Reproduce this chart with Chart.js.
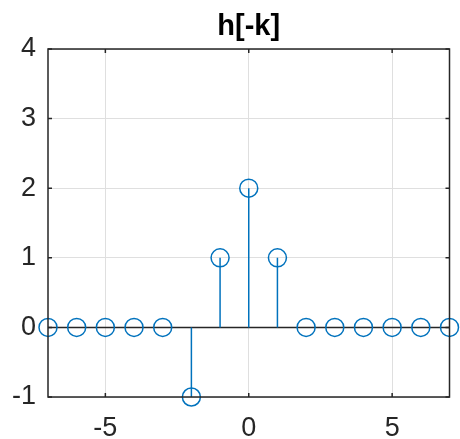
<!DOCTYPE html>
<html><head><meta charset="utf-8">
<script src="https://cdn.jsdelivr.net/npm/chart.js@4/dist/chart.umd.min.js"></script>
<style>html,body{margin:0;padding:0;background:#fff}#wrap{width:460px;height:439px}</style>
</head><body><div id="wrap"><canvas id="c"></canvas></div>
<script>
const kValues = [-7,-6,-5,-4,-3,-2,-1,0,1,2,3,4,5,6,7];
const hValues = [0,0,0,0,0,-1,1,2,1,0,0,0,0,0,0];
const xTicks = [-5,0,5];
const yTicks = [-1,0,1,2,3,4];
const titleText = 'h[-k]';

const points = kValues.map((k,i)=>({x:k,y:hValues[i]}));
const stems = [];
kValues.forEach((k,i)=>{ if(hValues[i]!==0){ stems.push({x:k,y:0},{x:k,y:hValues[i]},{x:k,y:null}); }});
const baseline = [{x:kValues[0],y:0},{x:kValues[kValues.length-1],y:0}];

const C_BLUE='#0072BD', C_AX='#262626';
const FONT='Liberation Sans, Arial, Helvetica, sans-serif';

const framePlugin = {
  id:'frame',
  afterDatasetsDraw(chart){
    const {ctx, chartArea:a, scales} = chart;
    ctx.save();
    ctx.strokeStyle=C_AX; ctx.lineWidth=1.5;
    ctx.strokeRect(a.left,a.top,a.right-a.left,a.bottom-a.top);
    const tl=4;
    xTicks.forEach(v=>{const px=scales.x.getPixelForValue(v);
      ctx.beginPath();ctx.moveTo(px,a.bottom);ctx.lineTo(px,a.bottom-tl);ctx.moveTo(px,a.top);ctx.lineTo(px,a.top+tl);ctx.stroke();});
    yTicks.forEach(v=>{const py=scales.y.getPixelForValue(v);
      ctx.beginPath();ctx.moveTo(a.left,py);ctx.lineTo(a.left+tl,py);ctx.moveTo(a.right,py);ctx.lineTo(a.right-tl,py);ctx.stroke();});
    // title centred over the axes box
    ctx.fillStyle='#000';
    ctx.font='bold 29px '+FONT;
    ctx.textAlign='center'; ctx.textBaseline='alphabetic';
    ctx.fillText(titleText,(a.left+a.right)/2,35);
    ctx.restore();
  }
};

new Chart(document.getElementById('c'),{
  type:'scatter',
  data:{datasets:[
    {type:'line',data:baseline,borderColor:C_AX,borderWidth:1.5,pointRadius:0,order:3},
    {type:'line',data:stems,borderColor:C_BLUE,borderWidth:1.5,pointRadius:0,spanGaps:false,order:2},
    {type:'scatter',data:points,pointStyle:'circle',pointRadius:9,borderColor:C_BLUE,borderWidth:1.5,backgroundColor:'rgba(0,0,0,0)',clip:false,order:1}
  ]},
  options:{
    responsive:true,maintainAspectRatio:false,animation:false,
    layout:{padding:{left:0,right:9,top:49,bottom:0}},
    plugins:{legend:{display:false},tooltip:{enabled:false},title:{display:false}},
    scales:{
      x:{type:'linear',min:-7,max:7,
        afterBuildTicks(s){s.ticks=xTicks.map(v=>({value:v}));},
        afterFit(s){s.height=42;},
        grid:{color:'#dfdfdf',lineWidth:1,drawTicks:false},
        border:{display:false},
        ticks:{color:C_AX,padding:15,font:{family:FONT,size:27}}},
      y:{type:'linear',min:-1,max:4,
        afterBuildTicks(s){s.ticks=yTicks.map(v=>({value:v}));},
        afterFit(s){s.width=48;},
        grid:{color:'#dfdfdf',lineWidth:1,drawTicks:false},
        border:{display:false},
        ticks:{color:C_AX,padding:12,font:{family:FONT,size:27}}}
    }
  },
  plugins:[framePlugin]
});
</script></body></html>
